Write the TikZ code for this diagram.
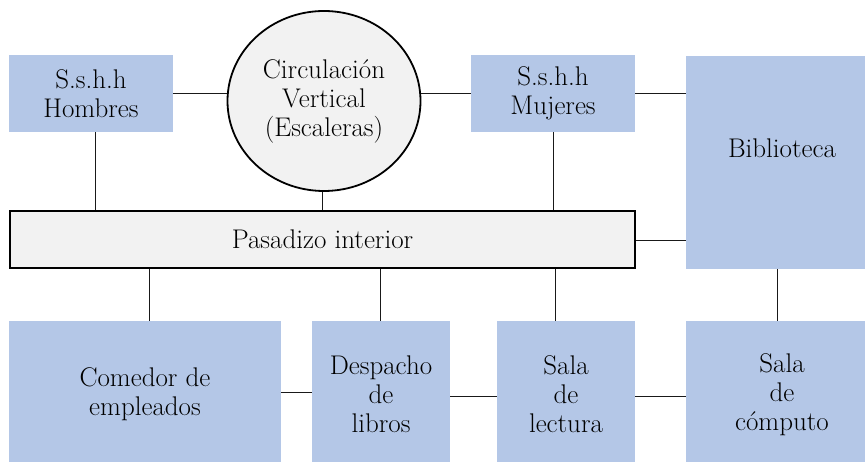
\documentclass[tikz,border=0pt]{standalone}
\usepackage{fontspec}
\usetikzlibrary{shapes.geometric}
\definecolor{roomblue}{HTML}{B4C7E7}
\definecolor{lightgray}{HTML}{F2F2F2}
\begin{document}
\begin{tikzpicture}[x=1pt,y=-1pt,
  txt/.style={font=\rmfamily\fontsize{27}{29}\selectfont, align=center, text=black},
  room/.style={txt, fill=roomblue, draw=none, inner sep=0pt, rectangle},
  hall/.style={txt, fill=lightgray, draw=black, line width=2pt, inner sep=0pt, rectangle},
  stair/.style={txt, fill=lightgray, draw=black, line width=1.8pt, ellipse, inner sep=0pt},
  link/.style={draw=black!90, line width=1pt}]
\useasboundingbox (0,0) rectangle (865,462);
% top row
\node[room, minimum width=164pt, minimum height=77pt] (hom) at (91,93.5) {S.s.h.h\\Hombres};
\node[stair, minimum width=193pt, minimum height=180pt] (circ) at (324,101) {Circulación\\Vertical\\(Escaleras)};
\node[room, minimum width=164pt, minimum height=77pt] (muj) at (553,93.5) {S.s.h.h\\Mujeres};
\node[room, minimum width=192pt, minimum height=213pt] (bib) at (782,162.5) {};
\node[txt] (bibt) at (782,148) {Biblioteca};
% hallway
\node[hall, minimum width=625pt, minimum height=57pt] (pas) at (322.5,239.5) {Pasadizo interior};
% bottom row
\node[room, minimum width=272pt, minimum height=147pt] (com) at (145,394.5) {Comedor de\\empleados};
\node[room, minimum width=138pt, minimum height=147pt] (desp) at (381,394.5) {Despacho\\de\\libros};
\node[room, minimum width=138pt, minimum height=147pt] (lec) at (566,394.5) {Sala\\de\\lectura};
\node[room, minimum width=192pt, minimum height=147pt] (comp) at (782,394.5) {Sala\\de\\cómputo};
% helper points on the box edges
\coordinate (hs) at ([xshift=4pt]hom.south);
\coordinate (cs) at ([xshift=-2pt]circ.south);
\coordinate (pe) at ([yshift=-1.5pt]pas.east);
\coordinate (cn) at ([xshift=4pt]com.north);
\coordinate (dn) at ([xshift=-1pt]desp.north);
\coordinate (ln) at ([xshift=-11pt]lec.north);
\coordinate (ce) at ([yshift=2.5pt]com.east);
\coordinate (de) at ([yshift=-1.5pt]desp.east);
\coordinate (le) at ([yshift=-1.5pt]lec.east);
% connectors
\draw[link] (hom.east) -- (circ.west |- hom.east);
\draw[link] (muj.west) -- (circ.east |- muj.west);
\draw[link] (muj.east) -- (bib.west |- muj.east);
\draw[link] (hs) -- (hs |- pas.north);
\draw[link] (cs) -- (cs |- pas.north);
\draw[link] (muj.south) -- (muj.south |- pas.north);
\draw[link] (pe) -- (bib.west |- pe);
\draw[link] (cn) -- (cn |- pas.south);
\draw[link] (dn) -- (dn |- pas.south);
\draw[link] (ln) -- (ln |- pas.south);
\draw[link] ([xshift=-5pt]comp.north) -- ([xshift=-5pt]bib.south);
\draw[link] (ce) -- (desp.west |- ce);
\draw[link] (de) -- (lec.west |- de);
\draw[link] (le) -- (comp.west |- le);
\end{tikzpicture}
\end{document}
